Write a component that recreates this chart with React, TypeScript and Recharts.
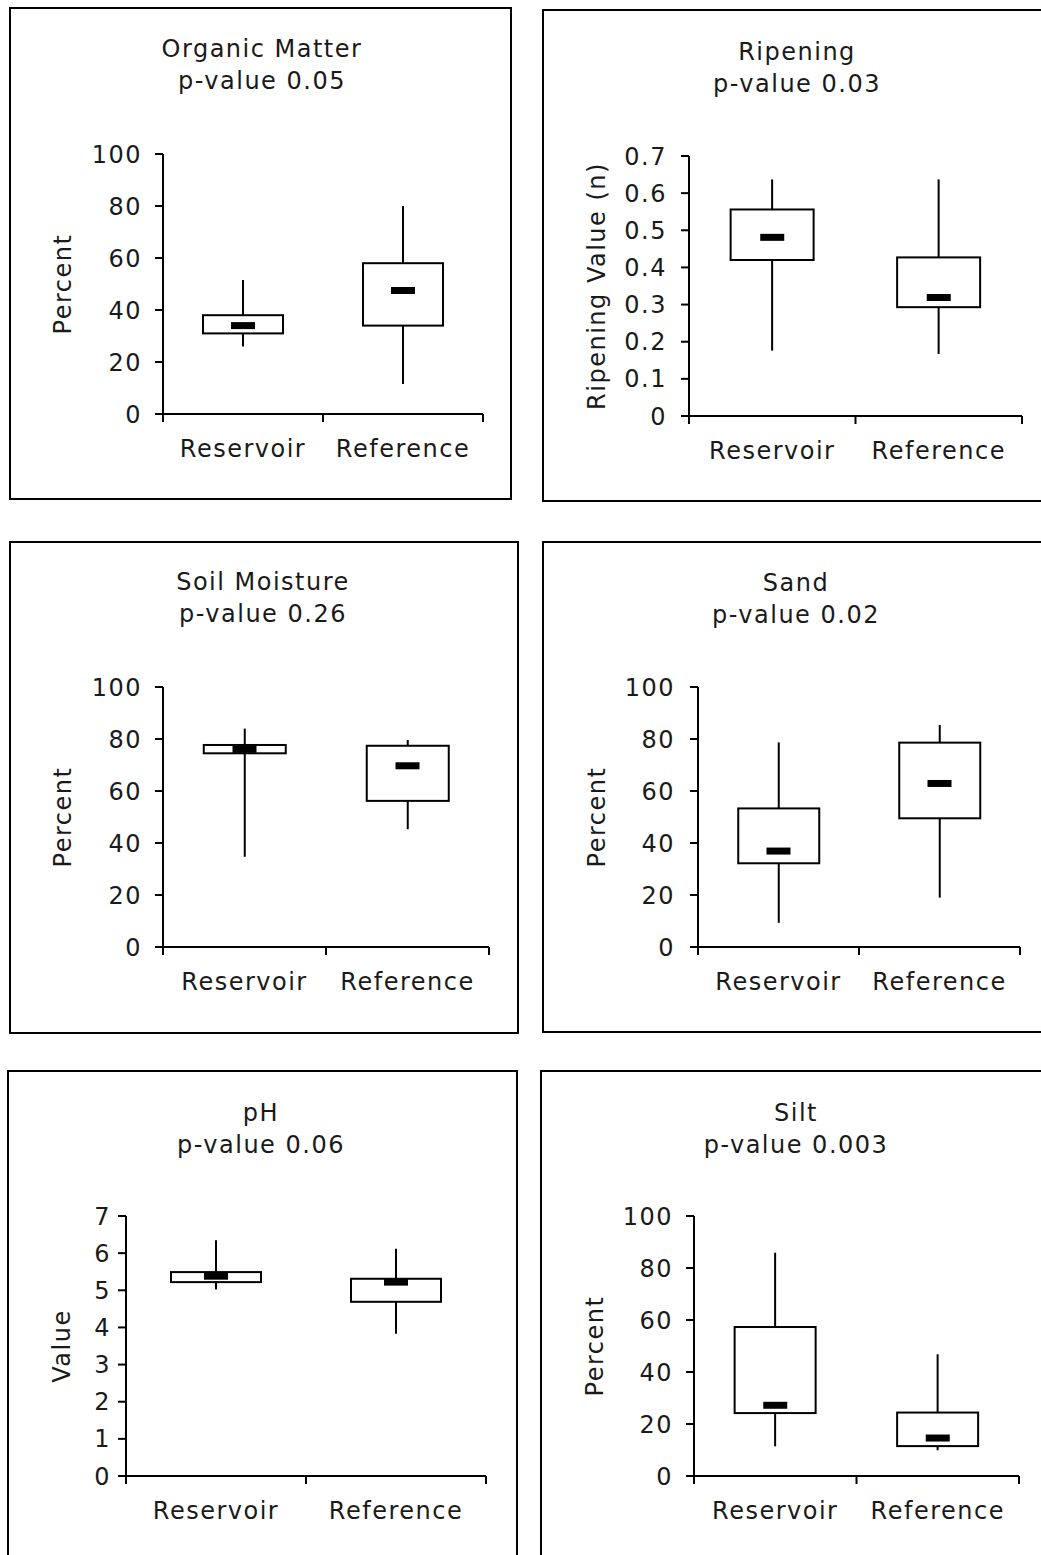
import React from 'react';
import { ComposedChart, Bar, Scatter, XAxis, YAxis } from 'recharts';

const categories = ['Reservoir', 'Reference'];

// each list: [min, q1, median, q3, max]
const organicReservoir = [26, 31, 34, 38, 51.5];
const organicReference = [11.5, 34, 47.5, 58, 80];
const ripeningReservoir = [0.176, 0.42, 0.481, 0.556, 0.637];
const ripeningReference = [0.167, 0.293, 0.319, 0.427, 0.637];
const moistureReservoir = [34.7, 74.5, 76, 77.7, 84];
const moistureReference = [45.3, 56.2, 69.7, 77.4, 79.6];
const sandReservoir = [9.3, 32.2, 36.9, 53.3, 78.7];
const sandReference = [19, 49.5, 62.9, 78.6, 85.4];
const phReservoir = [5.02, 5.22, 5.38, 5.49, 6.35];
const phReference = [3.83, 4.69, 5.22, 5.31, 6.12];
const siltReservoir = [11.4, 24.2, 27.2, 57.3, 85.9];
const siltReference = [9.9, 11.5, 14.6, 24.4, 46.8];

const percentTicks = [0, 20, 40, 60, 80, 100];
const ripeningTicks = [0, 0.1, 0.2, 0.3, 0.4, 0.5, 0.6, 0.7];
const phTicks = [0, 1, 2, 3, 4, 5, 6, 7];

const TEXT = '#1a1a1a';

function toRows(reservoir: number[], reference: number[]) {
  return categories.map((name, i) => {
    const s = i === 0 ? reservoir : reference;
    return { name, base: s[0], lower: s[1] - s[0], box: s[3] - s[1], upper: s[4] - s[3], median: s[2] };
  });
}

const panels = [
  { title: 'Organic Matter', p: 'p-value 0.05', yLabel: 'Percent', rows: toRows(organicReservoir, organicReference), ticks: percentTicks,
    frame: [9, 7, 503, 493], plot: [163, 154, 483, 414], titleX: 262, titleY: 49, labelX: 63, tickMargin: 13 },
  { title: 'Ripening', p: 'p-value 0.03', yLabel: 'Ripening Value (n)', rows: toRows(ripeningReservoir, ripeningReference), ticks: ripeningTicks,
    frame: [542, 9, 510, 493], plot: [689, 156, 1022, 416], titleX: 797, titleY: 52, labelX: 597, tickMargin: 14 },
  { title: 'Soil Moisture', p: 'p-value 0.26', yLabel: 'Percent', rows: toRows(moistureReservoir, moistureReference), ticks: percentTicks,
    frame: [9, 541, 510, 493], plot: [163, 687, 489, 947], titleX: 263, titleY: 582, labelX: 63, tickMargin: 13 },
  { title: 'Sand', p: 'p-value 0.02', yLabel: 'Percent', rows: toRows(sandReservoir, sandReference), ticks: percentTicks,
    frame: [542, 541, 510, 492], plot: [698, 687, 1020, 947], titleX: 796, titleY: 583, labelX: 597, tickMargin: 15 },
  { title: 'pH', p: 'p-value 0.06', yLabel: 'Value', rows: toRows(phReservoir, phReference), ticks: phTicks,
    frame: [7, 1070, 511, 600], plot: [126, 1216, 486, 1476], titleX: 261, titleY: 1113, labelX: 62, tickMargin: 7 },
  { title: 'Silt', p: 'p-value 0.003', yLabel: 'Percent', rows: toRows(siltReservoir, siltReference), ticks: percentTicks,
    frame: [540, 1070, 510, 600], plot: [694, 1216, 1019, 1476], titleX: 796, titleY: 1113, labelX: 595, tickMargin: 13 },
];

const Y_W = 150;
const M_TOP = 20;
const M_RIGHT = 30;
const X_H = 70;

function YLabel({ viewBox, text, dx }: any) {
  const cx = (viewBox?.x ?? 0) + dx;
  const cy = (viewBox?.y ?? 0) + (viewBox?.height ?? 0) / 2;
  return (
    <text x={cx} y={cy} transform={`rotate(-90 ${cx} ${cy})`} textAnchor="middle" dominantBaseline="central" fontSize={24} fill={TEXT}>
      {text}
    </text>
  );
}

function makeXTick(band: number) {
  return (props: any) => {
    const { x, y, payload, index } = props;
    const half = band / 2;
    const last = index === categories.length - 1;
    return (
      <g>
        <line x1={x - half} x2={x - half} y1={y} y2={y + 8} stroke="#000" strokeWidth={2} />
        {last && <line x1={x + half} x2={x + half} y1={y} y2={y + 8} stroke="#000" strokeWidth={2} />}
        <text x={x} y={y + 43} textAnchor="middle" fontSize={24} fill={TEXT}>{payload.value}</text>
      </g>
    );
  };
}

const Hidden = () => <g />;
const Whisker = (props: any) => {
  const { x, y, width, height } = props;
  if (!height) return <g />;
  return <line x1={x + width / 2} x2={x + width / 2} y1={y} y2={y + height} stroke="#000" strokeWidth={2} />;
};
const BoxShape = (props: any) => {
  const { x, y, width, height } = props;
  return <rect x={x} y={y} width={width} height={height} fill="#fff" stroke="#000" strokeWidth={2} />;
};
const MedianMark = (props: any) => {
  const { cx, cy } = props;
  return <rect x={cx - 12} y={cy - 3.5} width={24} height={7} fill="#000" />;
};

function BoxPanel({ cfg }: { cfg: typeof panels[number] }) {
  const [pl, pt, pr, pb] = cfg.plot;
  const width = pr - pl + Y_W + M_RIGHT;
  const height = pb - pt + M_TOP + X_H;
  const band = (pr - pl) / categories.length;
  const yMax = cfg.ticks[cfg.ticks.length - 1];
  return (
    <>
      <div style={{ position: 'absolute', left: cfg.frame[0], top: cfg.frame[1], width: cfg.frame[2], height: cfg.frame[3], border: '2px solid #000', boxSizing: 'border-box' }} />
      <div style={{ position: 'absolute', left: cfg.titleX - 200, top: cfg.titleY - 16, width: 400, textAlign: 'center', fontSize: 24, lineHeight: '32px', color: TEXT }}>
        <div>{cfg.title}</div>
        <div>{cfg.p}</div>
      </div>
      <div style={{ position: 'absolute', left: pl - Y_W, top: pt - M_TOP }}>
        <ComposedChart width={width} height={height} data={cfg.rows} margin={{ top: M_TOP, right: M_RIGHT, left: 0, bottom: 0 }} barCategoryGap="25%">
          <XAxis dataKey="name" type="category" height={X_H} tickSize={0} tickMargin={0} tickLine={false} interval={0}
            axisLine={{ stroke: '#000', strokeWidth: 2 }} tick={makeXTick(band)} />
          <YAxis type="number" domain={[0, yMax]} ticks={cfg.ticks} interval={0} width={Y_W} tickSize={8} tickMargin={cfg.tickMargin}
            allowDataOverflow axisLine={{ stroke: '#000', strokeWidth: 2 }} tickLine={{ stroke: '#000', strokeWidth: 2 }}
            tick={{ fill: TEXT, fontSize: 24 }} label={<YLabel text={cfg.yLabel} dx={cfg.labelX - (pl - Y_W)} />} />
          <Bar dataKey="base" stackId="b" shape={<Hidden />} isAnimationActive={false} />
          <Bar dataKey="lower" stackId="b" shape={<Whisker />} isAnimationActive={false} />
          <Bar dataKey="box" stackId="b" shape={<BoxShape />} isAnimationActive={false} />
          <Bar dataKey="upper" stackId="b" shape={<Whisker />} isAnimationActive={false} />
          <Scatter dataKey="median" shape={<MedianMark />} isAnimationActive={false} />
        </ComposedChart>
      </div>
    </>
  );
}

export default function App() {
  return (
    <div style={{ position: 'absolute', left: 0, top: 0, width: 1041, height: 1555, overflow: 'hidden', background: '#fff',
      fontFamily: "'DejaVu Sans', Verdana, sans-serif", letterSpacing: '1.5px' }}>
      {panels.map((cfg) => <BoxPanel key={cfg.title} cfg={cfg} />)}
    </div>
  );
}
